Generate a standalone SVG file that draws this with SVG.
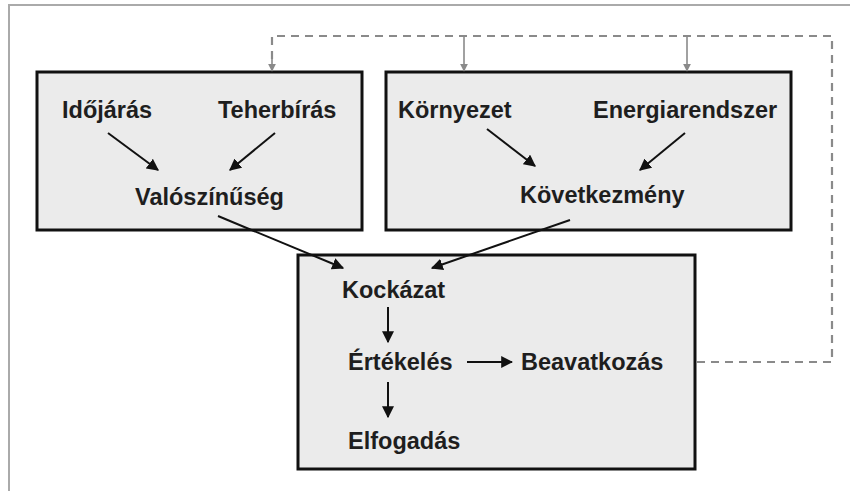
<svg xmlns="http://www.w3.org/2000/svg" width="850" height="491" viewBox="0 0 850 491">
  <defs>
    <style>
      .box { fill: #ebebeb; stroke: #111; stroke-width: 3; }
      .lbl { font-family: "Liberation Sans", Arial, sans-serif; font-weight: bold; font-size: 23.5px; fill: #1e1e1e; }
      .arr { stroke: #111; stroke-width: 2; fill: none; marker-end: url(#ah); }
      .dash { stroke: #8a8a8a; stroke-width: 2.2; fill: none; stroke-dasharray: 8 6; }
      .darr { stroke: #8a8a8a; stroke-width: 1.6; fill: none; marker-end: url(#gh); }
    </style>
    <marker id="ah" viewBox="0 0 10 10" refX="9" refY="5" markerWidth="6" markerHeight="6" orient="auto" markerUnits="strokeWidth">
      <path d="M0,0 L10,5 L0,10 Z" fill="#111"/>
    </marker>
    <marker id="gh" viewBox="0 0 10 10" refX="9" refY="5" markerWidth="5" markerHeight="5" orient="auto" markerUnits="strokeWidth">
      <path d="M0,0 L10,5 L0,10 Z" fill="#8a8a8a"/>
    </marker>
  </defs>
  <rect x="0" y="0" width="850" height="491" fill="#fff"/>
  <path d="M9,491 L9,5 L850,5" stroke="#aaa" stroke-width="2" fill="none"/>

  <g id="node-valoszinuseg">
    <rect class="box" x="37" y="72" width="325" height="158"/>
    <text class="lbl" x="62" y="118">Időjárás</text>
    <text class="lbl" x="218" y="118">Teherbírás</text>
    <text class="lbl" x="135" y="205">Valószínűség</text>
  </g>
  <g id="node-kovetkezmeny">
    <rect class="box" x="386" y="72" width="405" height="158"/>
    <text class="lbl" x="398" y="118">Környezet</text>
    <text class="lbl" x="593" y="118">Energiarendszer</text>
    <text class="lbl" x="520" y="203">Következmény</text>
  </g>
  <g id="node-kockazat">
    <rect class="box" x="298" y="255" width="397" height="214"/>
    <text class="lbl" x="342" y="298">Kockázat</text>
    <text class="lbl" x="348" y="370">Értékelés</text>
    <text class="lbl" x="521" y="370">Beavatkozás</text>
    <text class="lbl" x="348" y="449">Elfogadás</text>
  </g>

  <g id="connectors">
    <line class="arr" x1="108" y1="133" x2="158" y2="170"/>
    <line class="arr" x1="275" y1="133" x2="230" y2="170"/>
    <line class="arr" x1="487" y1="129" x2="535" y2="166"/>
    <line class="arr" x1="685" y1="133" x2="640" y2="170"/>
    <line class="arr" x1="218" y1="216" x2="343" y2="268"/>
    <line class="arr" x1="570" y1="220" x2="432" y2="268"/>
    <line class="arr" x1="388" y1="307" x2="388" y2="342"/>
    <line class="arr" x1="388" y1="382" x2="388" y2="417"/>
    <line class="arr" x1="467" y1="362" x2="512" y2="362"/>
    <path class="dash" d="M697,362 L832,362 L832,36 L272,36 L272,60"/>
    <line class="darr" x1="272" y1="58" x2="272" y2="71"/>
    <line class="darr" x1="464" y1="36" x2="464" y2="71"/>
    <line class="darr" x1="687" y1="36" x2="687" y2="71"/>
  </g>
</svg>
